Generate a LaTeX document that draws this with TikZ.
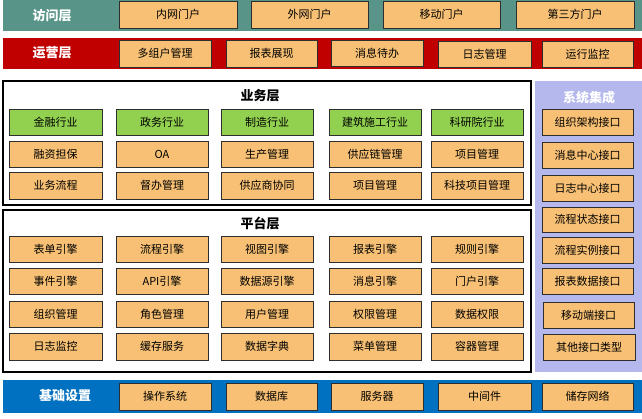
\documentclass[tikz,border=0pt]{standalone}
\usepackage{fontspec}
\setmainfont{Noto Sans CJK SC}
\definecolor{boxor}{HTML}{F7C074}
\definecolor{boxgr}{HTML}{92D050}
\definecolor{bandteal}{HTML}{589488}
\definecolor{bandred}{HTML}{C00000}
\definecolor{bandblue}{HTML}{0070C0}
\definecolor{lav}{HTML}{B4B8EC}
\definecolor{edge}{HTML}{2E2E2E}
\tikzset{
  ob/.style={draw=edge, line width=0.9pt, fill=boxor, inner sep=0pt, font=\fontsize{11}{12}\selectfont},
  gb/.style={ob, fill=boxgr},
  band/.style={draw=none, inner sep=0pt},
  frame/.style={draw=black, line width=1.2pt, fill=white, inner sep=0pt},
  wtitle/.style={text=white, font=\fontsize{13}{14}\selectfont\bfseries},
  btitle/.style={text=black, font=\fontsize{13}{14}\selectfont\bfseries},
}
\newcommand\putbox[7]{\node[#1, minimum width={(#5)-(#3)}, minimum height={(#6)-(#4)}] (#2) at ({((#3)+(#5))/2},{((#4)+(#6))/2}) {#7};}
\begin{document}
\begin{tikzpicture}[x=1pt,y=-1pt]
\useasboundingbox[fill=white] (0,0) rectangle (642,419);
% bands
\putbox{band, fill=bandteal}{bandA}{3}{0}{642}{31}{}
\putbox{band, fill=bandred}{bandB}{3}{38}{642}{69}{}
\putbox{band, fill=bandblue}{bandC}{3}{380}{642}{413}{}
\putbox{frame}{biz}{3}{81}{531}{205}{}
\putbox{frame}{plat}{3}{210}{531}{372}{}
\putbox{band, fill=lav}{integ}{535}{81}{642}{372}{}
% titles
\node[wtitle] (tA) at (52,16) {访问层};
\node[wtitle] (tB) at (52,53) {运营层};
\node[wtitle] (tC) at (65,396) {基础设置};
\node[btitle] (tBiz) at (260,96) {业务层};
\node[btitle] (tPlat) at (260,223) {平台层};
\node[wtitle] (tInt) at (589,98) {系统集成};
% access
\putbox{ob}{a1}{119}{1}{237}{28}{内网门户}
\putbox{ob}{a2}{251}{1}{368}{28}{外网门户}
\putbox{ob}{a3}{383}{1}{500}{28}{移动门户}
\putbox{ob}{a4}{516}{1}{634}{28}{第三方门户}
% operation
\putbox{ob}{o1}{119}{40}{211}{67}{多组户管理}
\putbox{ob}{o2}{226}{40}{317}{67}{报表展现}
\putbox{ob}{o3}{331}{40}{423}{66}{消息待办}
\putbox{ob}{o4}{438}{41}{531}{67}{日志管理}
\putbox{ob}{o5}{542}{41}{633}{67}{运行监控}
% business
\putbox{gb}{b11}{9}{109}{102}{135}{金融行业}
\putbox{gb}{b12}{116}{109}{208}{135}{政务行业}
\putbox{gb}{b13}{221}{109}{313}{135}{制造行业}
\putbox{gb}{b14}{329}{109}{421}{135}{建筑施工行业}
\putbox{gb}{b15}{431}{109}{523}{135}{科研院行业}
\putbox{ob}{b21}{9}{141}{102}{167}{融资担保}
\putbox{ob}{b22}{116}{141}{208}{167}{OA}
\putbox{ob}{b23}{221}{141}{313}{167}{生产管理}
\putbox{ob}{b24}{329}{141}{421}{167}{供应链管理}
\putbox{ob}{b25}{431}{141}{523}{167}{项目管理}
\putbox{ob}{b31}{9}{172}{102}{199}{业务流程}
\putbox{ob}{b32}{116}{172}{208}{199}{督办管理}
\putbox{ob}{b33}{221}{172}{313}{199}{供应商协同}
\putbox{ob}{b34}{329}{172}{421}{199}{项目管理}
\putbox{ob}{b35}{431}{172}{523}{199}{科技项目管理}
% platform
\putbox{ob}{p11}{9}{236}{102}{262}{表单引擎}
\putbox{ob}{p12}{116}{236}{208}{262}{流程引擎}
\putbox{ob}{p13}{221}{236}{313}{262}{视图引擎}
\putbox{ob}{p14}{329}{236}{421}{262}{报表引擎}
\putbox{ob}{p15}{431}{236}{523}{262}{规则引擎}
\putbox{ob}{p21}{9}{268}{102}{294}{事件引擎}
\putbox{ob}{p22}{116}{268}{208}{294}{API引擎}
\putbox{ob}{p23}{221}{268}{313}{294}{数据源引擎}
\putbox{ob}{p24}{329}{268}{421}{294}{消息引擎}
\putbox{ob}{p25}{431}{268}{523}{294}{门户引擎}
\putbox{ob}{p31}{9}{301}{102}{327}{组织管理}
\putbox{ob}{p32}{116}{301}{208}{327}{角色管理}
\putbox{ob}{p33}{221}{301}{313}{327}{用户管理}
\putbox{ob}{p34}{329}{301}{421}{327}{权限管理}
\putbox{ob}{p35}{431}{301}{523}{327}{数据权限}
\putbox{ob}{p41}{9}{333}{102}{360}{日志监控}
\putbox{ob}{p42}{116}{333}{208}{360}{缓存服务}
\putbox{ob}{p43}{221}{333}{313}{360}{数据字典}
\putbox{ob}{p44}{329}{333}{421}{360}{菜单管理}
\putbox{ob}{p45}{431}{333}{523}{360}{容器管理}
% integration
\putbox{ob}{i1}{542}{109}{633}{135}{组织架构接口}
\putbox{ob}{i2}{542}{142}{633}{168}{消息中心接口}
\putbox{ob}{i3}{542}{175}{633}{201}{日志中心接口}
\putbox{ob}{i4}{542}{207}{633}{232}{流程状态接口}
\putbox{ob}{i5}{542}{237}{633}{263}{流程实例接口}
\putbox{ob}{i6}{542}{268}{633}{294}{报表数据接口}
\putbox{ob}{i7}{543}{302}{634}{328}{移动端接口}
\putbox{ob}{i8}{543}{334}{635}{360}{其他接口类型}
% base
\putbox{ob}{f1}{119}{383}{211}{410}{操作系统}
\putbox{ob}{f2}{226}{383}{317}{410}{数据库}
\putbox{ob}{f3}{331}{383}{423}{410}{服务器}
\putbox{ob}{f4}{438}{383}{531}{410}{中间件}
\putbox{ob}{f5}{542}{383}{633}{410}{储存网络}
\end{tikzpicture}
\end{document}
